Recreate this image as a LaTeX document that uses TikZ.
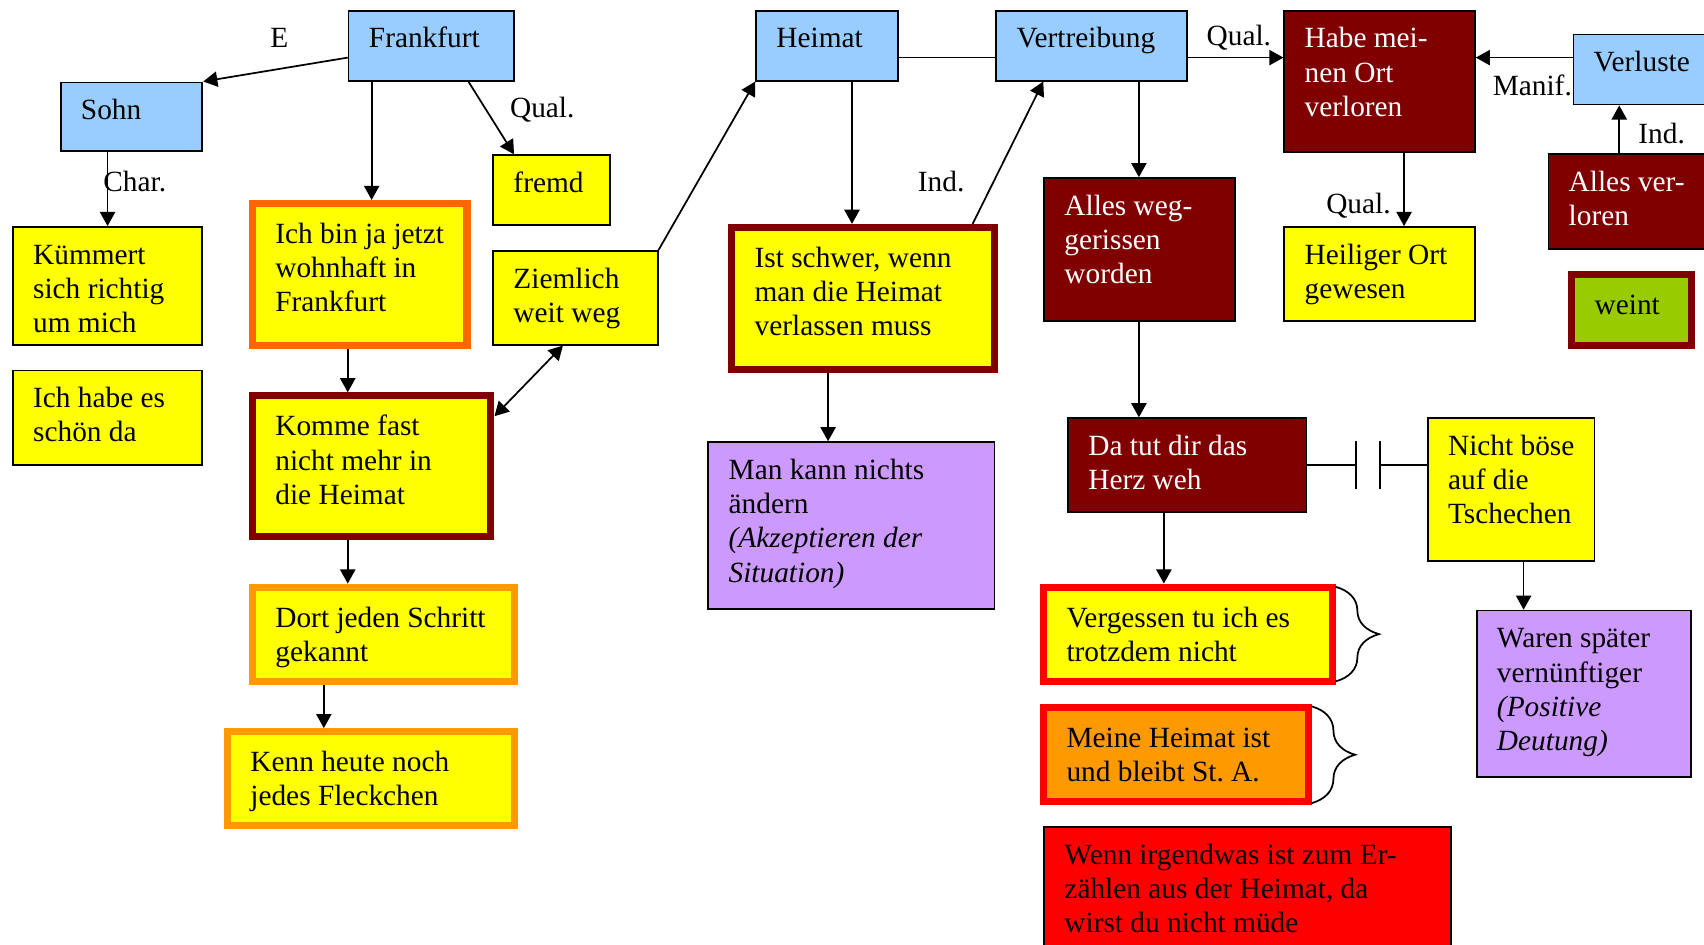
\documentclass[tikz,border=0pt]{standalone}
\usepackage{fontspec}
\setmainfont{Liberation Serif}
\usetikzlibrary{arrows.meta,decorations.pathreplacing}
\frenchspacing

\definecolor{skyblue}{HTML}{99CCFF}
\definecolor{lemon}{HTML}{FFFF00}
\definecolor{deeporange}{HTML}{FF6600}
\definecolor{amber}{HTML}{FF9900}
\definecolor{maroon}{HTML}{800000}
\definecolor{lilac}{HTML}{CC99FF}
\definecolor{lime}{HTML}{99CC00}
\definecolor{signalred}{HTML}{FF0000}

\tikzset{
  conn/.style={line width=0.8pt},
  arr/.style={conn, -{Triangle[length=6.5pt,width=7pt]}},
  darr/.style={conn, {Triangle[length=6.5pt,width=7pt]}-{Triangle[length=6.5pt,width=7pt]}},
  txt/.style={anchor=base west, inner sep=0pt, font=\fontsize{13.5}{15.75}\selectfont},
  lbl/.style={inner sep=0pt, font=\fontsize{13.5}{15.75}\selectfont},
  bluebox/.style={draw=black, fill=skyblue},
  yellowbox/.style={draw=black, fill=lemon},
  purplebox/.style={draw=black, fill=lilac},
  darkbox/.style={draw=black, fill=maroon},
  redbox/.style={draw=black, fill=signalred},
  yellow orange/.style={draw=deeporange, fill=lemon},
  yellow amber/.style={draw=amber, fill=lemon},
  yellow maroon/.style={draw=maroon, fill=lemon},
  yellow red/.style={draw=signalred, fill=lemon},
  amber red/.style={draw=signalred, fill=amber},
  lime maroon/.style={draw=maroon, fill=lime},
  curly/.style={conn, decorate, decoration={brace, amplitude=20pt}},
}

% #1 name, #2 style, #3-#6 outer corners (x1,y1,x2,y2), #7 border width, #8 text, #9 text colour
\newcommand\mapbox[9]{%
  \node[#2, line width={#7*0.5pt}, anchor=north west, inner sep=0pt,
        minimum width={(#5-#3-#7)*0.5pt}, minimum height={(#6-#4-#7)*0.5pt}]
        (#1) at (#3,#4) {};
  \node[txt, text=#9] (#1-t) at ({#3+#7+17.5},{#4+#7+33.5})
        {\begin{tabular}[t]{@{}l@{}}#8\end{tabular}};
}

\begin{document}
\begin{tikzpicture}[x=0.5pt,y=-0.5pt]
\useasboundingbox (0,0) rectangle (1568,869);

% relation labels
\node[lbl] (lE)  at (257,35)   {E};
\node[lbl] (lQ1) at (499,101)  {Qual.};
\node[lbl] (lC)  at (124,167)  {Char.};
\node[lbl] (lI1) at (866,167)  {Ind.};
\node[lbl] (lQ2) at (1140,35)  {Qual.};
\node[lbl] (lM)  at (1410,79)  {Manif.};
\node[lbl] (lQ3) at (1250,189) {Qual.};
\node[lbl] (lI2) at (1529,123) {Ind.};

% left column
\mapbox{F}{bluebox}{320}{9}{474}{75}{1.6}{Frankfurt}{black}
\mapbox{S}{bluebox}{55}{75}{187}{140}{1.6}{Sohn}{black}
\mapbox{Fr}{yellowbox}{453}{142}{562}{208}{1.6}{fremd}{black}
\mapbox{K}{yellowbox}{11}{208}{187}{318}{1.6}{Kümmert\\sich richtig\\um mich}{black}
\mapbox{Sc}{yellowbox}{11}{340}{187}{429}{1.6}{Ich habe es\\schön da}{black}
\mapbox{I}{yellow orange}{229}{184}{433}{321}{6.5}{Ich bin ja jetzt\\wohnhaft in\\Frankfurt}{black}
\mapbox{Km}{yellow maroon}{229}{361}{455}{497}{6.5}{Komme fast\\nicht mehr in\\die Heimat}{black}
\mapbox{Z}{yellowbox}{453}{230}{606}{318}{1.6}{Ziemlich\\weit weg}{black}
\mapbox{D}{yellow amber}{229}{537}{477}{630}{6.5}{Dort jeden Schritt\\gekannt}{black}
\mapbox{Kn}{yellow amber}{206}{670}{477}{763}{6.5}{Kenn heute noch\\jedes Fleckchen}{black}

% middle column
\mapbox{H}{bluebox}{695}{9}{827}{75}{1.6}{Heimat}{black}
\mapbox{V}{bluebox}{916}{9}{1093}{75}{1.6}{Vertreibung}{black}
\mapbox{IS}{yellow maroon}{670}{206}{918}{343}{6.5}{Ist schwer, wenn\\man die Heimat\\verlassen muss}{black}
\mapbox{M}{purplebox}{651}{406}{916}{561}{1.6}{Man kann nichts\\ändern\\\textit{(Akzeptieren der}\\\textit{Situation)}}{black}
\mapbox{AW}{darkbox}{960}{163}{1137}{296}{1.6}{Alles weg-\\gerissen\\worden}{white}
\mapbox{DT}{darkbox}{982}{384}{1203}{472}{1.6}{Da tut dir das\\Herz weh}{white}
\mapbox{Vg}{yellow red}{957}{537}{1229}{630}{6.5}{Vergessen tu ich es\\trotzdem nicht}{black}
\mapbox{Mh}{amber red}{957}{648}{1207}{741}{6.5}{Meine Heimat ist\\und bleibt St. A.}{black}
\mapbox{Wn}{redbox}{960}{760}{1336}{890}{1.6}{Wenn irgendwas ist zum Er-\\zählen aus der Heimat, da\\wirst du nicht müde}{black}

% right column
\mapbox{Hb}{darkbox}{1181}{9}{1358}{141}{1.6}{Habe mei-\\nen Ort\\verloren}{white}
\mapbox{Vl}{bluebox}{1447}{31}{1590}{97}{1.6}{Verluste}{black}
\mapbox{HO}{yellowbox}{1181}{208}{1358}{296}{1.6}{Heiliger Ort\\gewesen}{black}
\mapbox{AV}{darkbox}{1424}{141}{1590}{230}{1.6}{Alles ver-\\loren}{white}
\mapbox{We}{lime maroon}{1443}{249}{1560}{321}{6.5}{weint}{black}
\mapbox{NB}{yellowbox}{1313}{384}{1468}{517}{1.6}{Nicht böse\\auf die\\Tschechen}{black}
\mapbox{W}{purplebox}{1358}{561}{1557}{716}{1.6}{Waren später\\vernünftiger\\\textit{(Positive}\\\textit{Deutung)}}{black}

% connectors, left part
\draw[arr] ([yshift=-5.5pt]F.west) -- (S.north east);
\draw[arr] ([xshift=11pt]F.south west) -- ([xshift=11pt]F.south west |- I.north);
\draw[arr] ([xshift=-21.5pt]F.south east) -- ([xshift=10pt]Fr.north west);
\draw[arr] ([xshift=22pt]S.south west) -- ([xshift=22pt]S.south west |- K.north);
\draw[arr] ([xshift=45.5pt]I.south west) -- ([xshift=45.5pt]I.south west |- Km.north);
\draw[darr] ([yshift=-11pt]Km.north east) -- ([xshift=32.5pt]Z.south west);
\draw[arr] (Z.north east) -- (H.south west);
\draw[arr] ([xshift=45.5pt]Km.south west) -- ([xshift=45.5pt]Km.south west |- D.north);
\draw[arr] ([xshift=34.5pt]D.south west) -- ([xshift=34.5pt]D.south west |- Kn.north);

% connectors, middle part
\draw[conn] ([yshift=-5.5pt]H.east) -- ([yshift=-5.5pt]V.west);
\draw[arr] ([xshift=44.5pt]H.south west) -- ([xshift=44.5pt]H.south west |- IS.north);
\draw[arr] ([xshift=-11.5pt]IS.north east) -- ([xshift=22pt]V.south west);
\draw[arr] ([xshift=46pt]IS.south west) -- ([xshift=46pt]IS.south west |- M.north);
\draw[arr] ([yshift=-5.5pt]V.east) -- ([yshift=-5.5pt]V.east -| Hb.west);
\draw[arr] ([xshift=66pt]V.south west) -- ([xshift=66pt]V.south west |- AW.north);
\draw[arr] ([xshift=44pt]AW.south west) -- ([xshift=44pt]AW.south west |- DT.north);
\draw[arr] ([xshift=44.5pt]DT.south west) -- ([xshift=44.5pt]DT.south west |- Vg.north);

% connectors, right part
\draw[arr] ([yshift=5.5pt]Vl.west) -- ([yshift=5.5pt]Vl.west -| Hb.east);
\draw[arr] ([xshift=55.5pt]Hb.south west) -- ([xshift=55.5pt]Hb.south west |- HO.north);
\draw[arr] ([xshift=33pt]AV.north west) -- ([xshift=33pt]AV.north west |- Vl.south);
\draw[arr] ([xshift=44.5pt]NB.south west) -- ([xshift=44.5pt]NB.south west |- W.north);

% opposition between DT and NB
\coordinate (c1) at ([xshift=22.5pt]DT.east);
\coordinate (c2) at ([xshift=33.5pt]DT.east);
\draw[conn] (DT.east) -- (c1);
\draw[conn] ([yshift=11pt]c1) -- ([yshift=-11pt]c1);
\draw[conn] ([yshift=11pt]c2) -- ([yshift=-11pt]c2);
\draw[conn] (c2) -- (c2 -| NB.west);

% braces
\draw[curly] ([yshift=-1.5pt]Vg.north east) -- ([yshift=1.5pt]Vg.south east);
\draw[curly] ([yshift=-1pt]Mh.north east) -- ([yshift=1pt]Mh.south east);
\end{tikzpicture}
\end{document}
